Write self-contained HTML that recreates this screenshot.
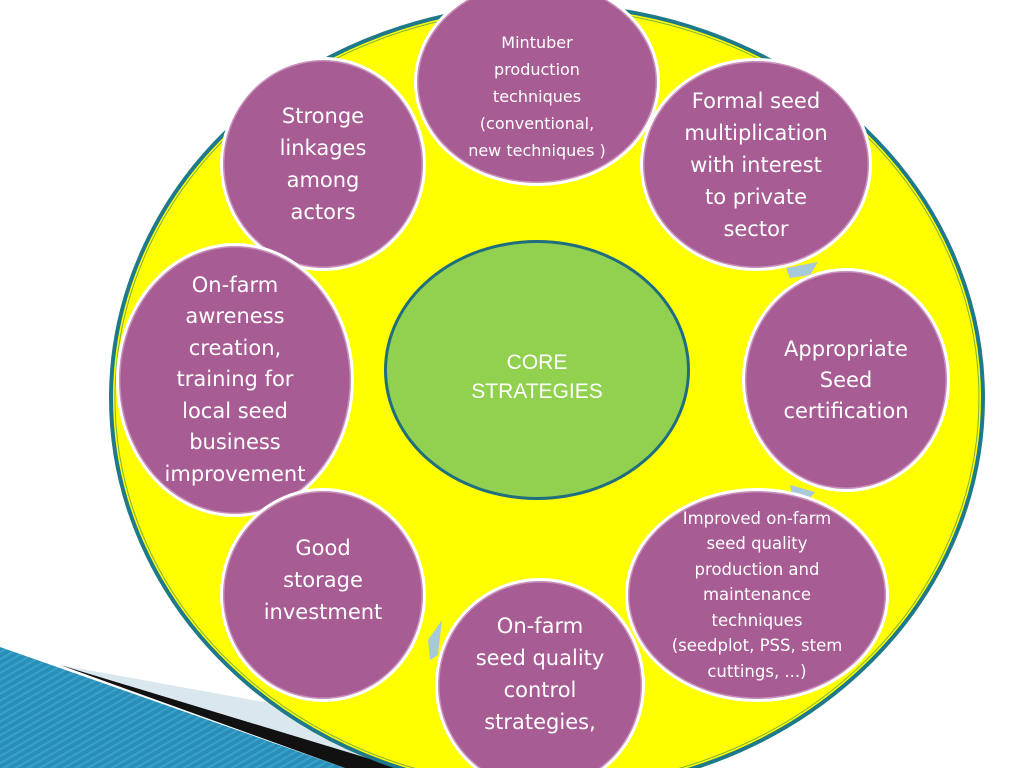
<!DOCTYPE html>
<html><head><meta charset="utf-8"><style>
html,body{margin:0;padding:0;background:#fff;width:1024px;height:768px;overflow:hidden;}
body{position:relative;font-family:"Liberation Sans","DejaVu Sans",sans-serif;}
.c{position:absolute;border-radius:50%;background:#a85c94;border:3px solid #fff;box-shadow:inset 0 0 0 1.5px #c98fbb;color:#fff;display:flex;align-items:center;justify-content:center;text-align:center;box-sizing:border-box;font-family:"DejaVu Sans",sans-serif;}
</style></head><body>
<div style="position:absolute;left:0;top:0;width:1024px;height:768px;overflow:hidden;">
<svg width="1024" height="768" style="position:absolute;left:0;top:0">
<defs>
<pattern id="st" width="6" height="6" patternUnits="userSpaceOnUse" patternTransform="rotate(60)">
<rect width="6" height="6" fill="#2a8fb8"/><rect width="2" height="6" fill="#3aa2c8"/>
</pattern>
</defs>
<polygon points="0,647 345,768 0,768" fill="url(#st)"/>
<polygon points="60,665 280,705 400,768" fill="#d8e8ee"/>
<polygon points="60,665 400,768 345,768" fill="#111"/>
<ellipse cx="547" cy="398" rx="436" ry="393" fill="#ffff00" stroke="#1e7a8a" stroke-width="4"/>
<ellipse cx="547" cy="398" rx="432" ry="389" fill="none" stroke="#7ab04a" stroke-width="1"/>
<ellipse cx="537" cy="370" rx="153" ry="130" fill="#1e6e80"/>
<ellipse cx="537" cy="370" rx="150" ry="127" fill="#92d050"/>
<polygon points="786,268 818,262 810,275 790,278" fill="#a8c8dc"/>
<polygon points="790,485 815,492 808,500 792,494" fill="#a8c8dc"/>
<polygon points="428,640 442,620 438,655 430,660" fill="#a8c8dc"/>
</svg>
<div style="position:absolute;left:437px;top:348px;width:200px;text-align:center;color:#fff;font-size:21px;line-height:29px;">CORE<br>STRATEGIES</div>
<div class="c" style="left:414px;top:-22px;width:246px;height:208px;font-size:16px;line-height:27px;padding-top:28px">Mintuber<br>production<br>techniques<br>(conventional,<br>new techniques )</div>
<div class="c" style="left:220px;top:57px;width:206px;height:214px;font-size:21px;line-height:32px;">Stronge<br>linkages<br>among<br>actors</div>
<div class="c" style="left:640px;top:58px;width:232px;height:213px;font-size:21px;line-height:32px;">Formal seed<br>multiplication<br>with interest<br>to private<br>sector</div>
<div class="c" style="left:742px;top:268px;width:208px;height:224px;font-size:21px;line-height:31px;">Appropriate<br>Seed<br>certification</div>
<div class="c" style="left:116px;top:243px;width:238px;height:274px;font-size:21px;line-height:31.5px;">On-farm<br>awreness<br>creation,<br>training for<br>local seed<br>business<br>improvement</div>
<div class="c" style="left:625px;top:488px;width:264px;height:214px;font-size:16.5px;line-height:25.5px;">Improved on-farm<br>seed quality<br>production and<br>maintenance<br>techniques<br>(seedplot, PSS, stem<br>cuttings, ...)</div>
<div class="c" style="left:220px;top:488px;width:206px;height:214px;font-size:21px;line-height:32px;padding-bottom:30px">Good<br>storage<br>investment</div>
<div class="c" style="left:435px;top:578px;width:210px;height:214px;font-size:21px;line-height:32px;padding-bottom:22px">On-farm<br>seed quality<br>control<br>strategies,</div>
</div>
</body></html>
